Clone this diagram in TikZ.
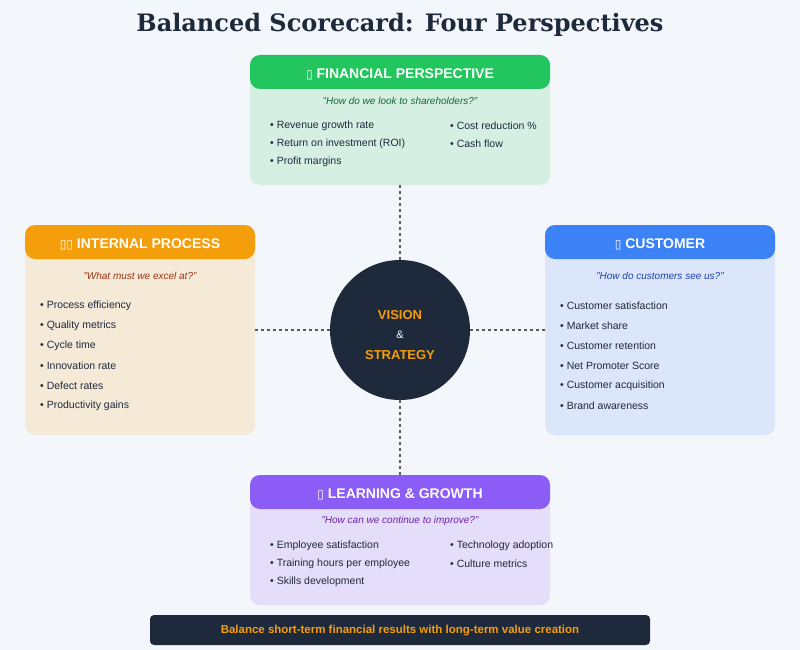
\documentclass[tikz,border=0pt]{standalone}
\usepackage{fontspec}
\setmainfont{Liberation Sans}
\newfontfamily\titlefont{DejaVu Serif}
\newfontfamily\symfont{DejaVu Sans}
\begin{document}
\begin{tikzpicture}[x=1pt,y=-1pt,
  body/.style={rounded corners=10pt},
  htext/.style={text=white,font=\fontsize{14}{16}\selectfont\bfseries},
  qtext/.style={font=\fontsize{10}{12}\selectfont\itshape},
  item/.style={anchor=west,text=navy,font=\fontsize{10.5}{12}\selectfont,inner sep=0},
  conn/.style={draw=black!65,dashed,line width=1.2pt}]
\definecolor{bg}{HTML}{F3F6FA}
\definecolor{navy}{HTML}{1E293B}
\definecolor{gH}{HTML}{22C55E}\definecolor{gB}{HTML}{D5F0E3}\definecolor{gQ}{HTML}{166534}
\definecolor{oH}{HTML}{F59E0B}\definecolor{oB}{HTML}{F5EAD8}\definecolor{oQ}{HTML}{9A3412}
\definecolor{bH}{HTML}{3B82F6}\definecolor{bB}{HTML}{DBE6FB}\definecolor{bQ}{HTML}{1E40AF}
\definecolor{pH}{HTML}{8B5CF6}\definecolor{pB}{HTML}{E4DEFB}\definecolor{pQ}{HTML}{6B21A8}
\definecolor{orng}{HTML}{F59E0B}
\fill[bg] (0,0) rectangle (800,650);
\useasboundingbox (0,0) rectangle (800,650);
\newcommand{\ico}{{\symfont\fontsize{12}{14}\selectfont\char"25AF}}
\node[font=\titlefont\fontsize{24}{28}\selectfont\bfseries,text=navy] (title) at (400,25) {Balanced Scorecard: Four Perspectives};
% box bodies and headers
\fill[body,gB] (250,55) rectangle (550,185);
\fill[body,gH] (250,55) rectangle (550,89);
\fill[body,oB] (25,225) rectangle (255,435);
\fill[body,oH] (25,225) rectangle (255,259);
\fill[body,bB] (545,225) rectangle (775,435);
\fill[body,bH] (545,225) rectangle (775,259);
\fill[body,pB] (250,475) rectangle (550,605);
\fill[body,pH] (250,475) rectangle (550,509);
\coordinate (fin) at (400,185);
\coordinate (int) at (255,330);
\coordinate (cus) at (545,330);
\coordinate (lrn) at (400,475);
% circle
\node[circle,fill=navy,minimum size=140pt,inner sep=0] (c) at (400,330) {};
\draw[conn] (fin) -- (c.north);
\draw[conn] (lrn) -- (c.south);
\draw[conn] (int) -- (c.west);
\draw[conn] (cus) -- (c.east);
\node[text=orng,font=\fontsize{13}{15}\selectfont\bfseries] (v) at (400,315) {VISION};
\node[text=white,font=\fontsize{11}{13}\selectfont] (amp) at (400,335) {\&};
\node[text=orng,font=\fontsize{13}{15}\selectfont\bfseries] (s) at (400,355) {STRATEGY};
% headers
\node[htext] (fh) at (400,74) {\ico\ FINANCIAL PERSPECTIVE};
\node[htext] (ih) at (140,244) {\ico\ico\ INTERNAL PROCESS};
\node[htext] (ch) at (660,244) {\ico\ CUSTOMER};
\node[htext] (lh) at (400,494) {\ico\ LEARNING \& GROWTH};
% quotes
\node[qtext,text=gQ] (fq) at (400,101) {"How do we look to shareholders?"};
\node[qtext,text=oQ] (iq) at (140,276) {"What must we excel at?"};
\node[qtext,text=bQ] (cq) at (660,276) {"How do customers see us?"};
\node[qtext,text=pQ] (lq) at (400,521) {"How can we continue to improve?"};
% items
\node[item] (f1) at (270,126) {• Revenue growth rate};
\node[item] (f2) at (270,144) {• Return on investment (ROI)};
\node[item] (f3) at (270,162) {• Profit margins};
\node[item] (f4) at (450,126) {• Cost reduction \%};
\node[item] (f5) at (450,144) {• Cash flow};
\node[item] (i1) at (40,306) {• Process efficiency};
\node[item] (i2) at (40,326) {• Quality metrics};
\node[item] (i3) at (40,346) {• Cycle time};
\node[item] (i4) at (40,366) {• Innovation rate};
\node[item] (i5) at (40,386) {• Defect rates};
\node[item] (i6) at (40,406) {• Productivity gains};
\node[item] (c1) at (560,306) {• Customer satisfaction};
\node[item] (c2) at (560,326) {• Market share};
\node[item] (c3) at (560,346) {• Customer retention};
\node[item] (c4) at (560,366) {• Net Promoter Score};
\node[item] (c5) at (560,386) {• Customer acquisition};
\node[item] (c6) at (560,406) {• Brand awareness};
\node[item] (l1) at (270,546) {• Employee satisfaction};
\node[item] (l2) at (270,564) {• Training hours per employee};
\node[item] (l3) at (270,582) {• Skills development};
\node[item] (l4) at (450,546) {• Technology adoption};
\node[item] (l5) at (450,564) {• Culture metrics};
% bottom bar
\fill[navy,rounded corners=4pt] (150,615) rectangle (650,645);
\node[text=orng,font=\fontsize{11.5}{14}\selectfont\bfseries] (bar) at (400,631) {Balance short-term financial results with long-term value creation};
\end{tikzpicture}
\end{document}
